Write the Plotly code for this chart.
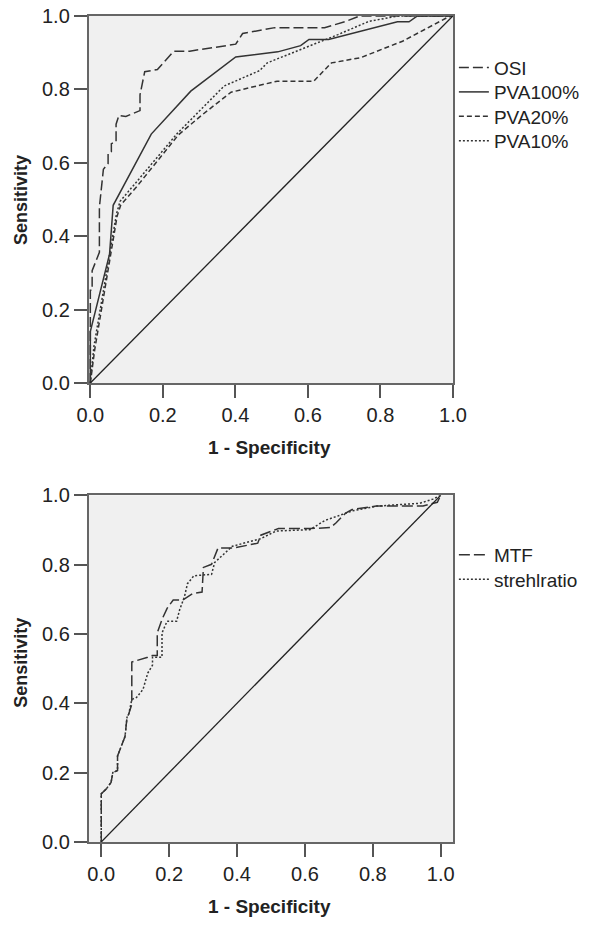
import plotly.graph_objects as go

# ---------------- data ----------------
tick_vals = [0.0, 0.2, 0.4, 0.6, 0.8, 1.0]
tick_text = ["0.0", "0.2", "0.4", "0.6", "0.8", "1.0"]

osi_x = [0, 0, 0.005, 0.005, 0.025, 0.025, 0.036, 0.049, 0.049, 0.058, 0.058, 0.071, 0.071, 0.079,
         0.098, 0.137, 0.137, 0.150, 0.185, 0.230, 0.274, 0.361, 0.401, 0.420, 0.509, 0.646, 0.702, 0.744, 1.0]
osi_y = [0, 0.253, 0.253, 0.306, 0.356, 0.479, 0.582, 0.598, 0.625, 0.630, 0.652, 0.657, 0.705, 0.729,
         0.726, 0.742, 0.785, 0.848, 0.854, 0.904, 0.904, 0.918, 0.923, 0.952, 0.968, 0.968, 0.984, 1.0, 1.0]

pva100_x = [0, 0, 0.053, 0.063, 0.168, 0.277, 0.401, 0.517, 0.580, 0.603, 0.657, 0.847, 0.879, 0.902, 1.0]
pva100_y = [0, 0.14, 0.351, 0.484, 0.678, 0.795, 0.888, 0.902, 0.919, 0.936, 0.936, 0.984, 0.984, 1.0, 1.0]

pva20_x = [0, 0.012, 0.074, 0.084, 0.128, 0.243, 0.309, 0.388, 0.467, 0.515, 0.616, 0.665, 0.745, 0.861, 0.987, 1.0]
pva20_y = [0, 0.09, 0.455, 0.485, 0.535, 0.676, 0.731, 0.792, 0.811, 0.822, 0.822, 0.872, 0.886, 0.931, 0.997, 1.0]

pva10_x = [0, 0.010, 0.072, 0.082, 0.125, 0.240, 0.300, 0.369, 0.467, 0.488, 0.683, 0.768, 0.850, 1.0]
pva10_y = [0, 0.10, 0.46, 0.495, 0.545, 0.680, 0.740, 0.809, 0.851, 0.872, 0.949, 0.985, 1.0, 1.0]

mtf_x = [0, 0, 0.015, 0.029, 0.034, 0.048, 0.048, 0.056, 0.070, 0.076, 0.081, 0.090, 0.090, 0.137,
         0.151, 0.165, 0.165, 0.179, 0.194, 0.212, 0.240, 0.268, 0.297, 0.301, 0.325, 0.344, 0.391,
         0.461, 0.470, 0.522, 0.615, 0.676, 0.692, 0.720, 0.739, 0.810, 0.948, 0.990, 1.0]
mtf_y = [0, 0.139, 0.153, 0.172, 0.200, 0.206, 0.248, 0.270, 0.304, 0.360, 0.369, 0.397, 0.519, 0.533,
         0.538, 0.538, 0.603, 0.642, 0.674, 0.698, 0.698, 0.716, 0.721, 0.792, 0.801, 0.848, 0.848,
         0.862, 0.885, 0.904, 0.904, 0.907, 0.921, 0.949, 0.959, 0.969, 0.969, 0.980, 1.0]

strehl_x = [0, 0, 0.015, 0.029, 0.034, 0.048, 0.048, 0.056, 0.070, 0.076, 0.081, 0.090, 0.104, 0.123,
            0.137, 0.151, 0.151, 0.179, 0.179, 0.194, 0.222, 0.231, 0.245, 0.254, 0.273, 0.325, 0.334,
            0.386, 0.470, 0.515, 0.615, 0.658, 0.701, 0.739, 0.814, 0.938, 0.977, 1.0]
strehl_y = [0, 0.139, 0.153, 0.172, 0.200, 0.206, 0.248, 0.270, 0.304, 0.360, 0.369, 0.411, 0.417, 0.440,
            0.487, 0.510, 0.533, 0.533, 0.603, 0.637, 0.637, 0.670, 0.707, 0.745, 0.768, 0.772, 0.806,
            0.853, 0.875, 0.897, 0.901, 0.927, 0.941, 0.955, 0.969, 0.977, 0.989, 1.0]

ref_x = [0, 1]
ref_y = [0, 1]

# ---------------- figure ----------------
W, H = 597, 934
FONT = "Arial, Liberation Sans, sans-serif"
LC = "#333333"

def px_x(p):
    return p / W

def px_y(p):
    return 1 - p / H

fig = go.Figure()

def add(x, y, name, dash, xa, ya, legend, show=True, width=1.5, color=LC):
    fig.add_trace(go.Scatter(x=x, y=y, mode="lines", name=name,
                             line=dict(color=color, width=width, dash=dash),
                             xaxis=xa, yaxis=ya, legend=legend, showlegend=show,
                             hoverinfo="skip"))

add(osi_x, osi_y, "OSI", "10px,4px", "x", "y", "legend")
add(pva100_x, pva100_y, "PVA100%", "solid", "x", "y", "legend2")
add(pva20_x, pva20_y, "PVA20%", "5px,3px", "x", "y", "legend3")
add(pva10_x, pva10_y, "PVA10%", "2px,2px", "x", "y", "legend4")
add(ref_x, ref_y, "ref", "solid", "x", "y", "legend", show=False, width=1.3, color="#222222")

add(mtf_x, mtf_y, "MTF", "11px,4px", "x2", "y2", "legend5")
add(strehl_x, strehl_y, "strehlratio", "2px,2px", "x2", "y2", "legend6")
add(ref_x, ref_y, "ref", "solid", "x2", "y2", "legend5", show=False, width=1.3, color="#222222")

axis_common = dict(showgrid=False, zeroline=False, showline=True, mirror=True,
                   linecolor="#666666", linewidth=1.5, ticks="outside", ticklen=13,
                   tickwidth=1.5, tickcolor="#555555", tickvals=tick_vals, ticktext=tick_text,
                   tickfont=dict(family=FONT, size=20, color="#222222"), fixedrange=True)

leg_font = dict(family=FONT, size=19, color="#222222")

def leg(yc):
    return dict(x=px_x(462), y=px_y(yc), xanchor="left", yanchor="middle",
                bgcolor="rgba(0,0,0,0)", font=leg_font, itemwidth=30)

fig.update_layout(
    width=W, height=H,
    margin=dict(l=0, r=0, t=0, b=0),
    paper_bgcolor="white",
    plot_bgcolor="#f0f0f0",
    font=dict(family=FONT, color="#222222"),
    xaxis=dict(domain=[px_x(80), px_x(461)], range=[-0.005, 1.0], anchor="y", **axis_common),
    yaxis=dict(domain=[px_y(381), px_y(5)], range=[0, 1.0], anchor="x", **axis_common),
    xaxis2=dict(domain=[px_x(80), px_x(461)], range=[-0.0375, 1.036], anchor="y2", **axis_common),
    yaxis2=dict(domain=[px_y(851), px_y(496)], range=[0, 1.0], anchor="x2", **axis_common),
    legend=leg(58), legend2=leg(83), legend3=leg(108), legend4=leg(133),
    legend5=leg(557), legend6=leg(582),
)

for yc in (194, 668):
    fig.add_annotation(text="<b>Sensitivity</b>", xref="paper", yref="paper",
                       x=px_x(10), y=px_y(yc), textangle=-90, showarrow=False,
                       xanchor="center", yanchor="middle",
                       font=dict(family=FONT, size=18, color="#222222"))
for yc in (447, 917):
    fig.add_annotation(text="<b>1 - Specificity</b>", xref="paper", yref="paper",
                       x=px_x(269), y=px_y(yc), showarrow=False,
                       xanchor="center", yanchor="middle",
                       font=dict(family=FONT, size=19, color="#222222"))

fig.write_html("out.html", config={"displayModeBar": False},
               post_script="document.body.style.margin='0';")
